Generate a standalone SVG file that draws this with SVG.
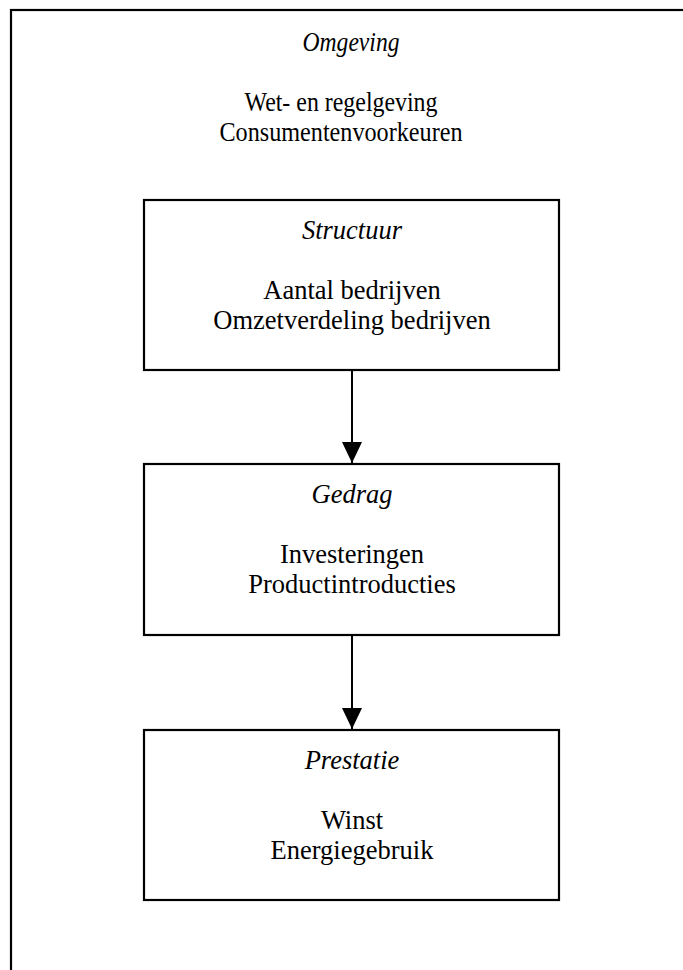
<svg xmlns="http://www.w3.org/2000/svg" width="683" height="970" viewBox="0 0 683 970">
<style>
.box{fill:#fff;stroke:#000;stroke-width:2.2}
.t{font-family:"Liberation Serif","Times New Roman",serif;font-size:26.5px;fill:#000;text-anchor:middle}
.i{font-style:italic}
.c{stroke:#000;stroke-width:2;fill:none}
</style>
<defs>
<marker id="ah" viewBox="0 0 21 20" refX="21" refY="10" markerWidth="21" markerHeight="20" markerUnits="userSpaceOnUse" orient="auto">
<path d="M0,0 L21,10 L0,20 Z" fill="#000"/>
</marker>
</defs>
<g id="omgeving">
<rect class="box" x="11" y="10" width="700" height="1000"/>
<text class="t i" x="351" y="51" textLength="97" lengthAdjust="spacingAndGlyphs">Omgeving</text>
<text class="t" x="341" y="111" textLength="193" lengthAdjust="spacingAndGlyphs">Wet- en regelgeving</text>
<text class="t" x="341" y="141" textLength="243" lengthAdjust="spacingAndGlyphs">Consumentenvoorkeuren</text>
</g>
<g id="structuur">
<rect class="box" x="144" y="200" width="415" height="170"/>
<text class="t i" x="352" y="239">Structuur</text>
<text class="t" x="352" y="299">Aantal bedrijven</text>
<text class="t" x="352" y="329">Omzetverdeling bedrijven</text>
</g>
<g id="gedrag">
<rect class="box" x="144" y="464" width="415" height="171"/>
<text class="t i" x="352" y="503">Gedrag</text>
<text class="t" x="352" y="563">Investeringen</text>
<text class="t" x="352" y="593">Productintroducties</text>
</g>
<g id="prestatie">
<rect class="box" x="144" y="730" width="415" height="170"/>
<text class="t i" x="352" y="769">Prestatie</text>
<text class="t" x="352" y="829">Winst</text>
<text class="t" x="352" y="859">Energiegebruik</text>
</g>
<g id="connectors">
<line class="c" x1="352" y1="371" x2="352" y2="463" marker-end="url(#ah)"/>
<line class="c" x1="352" y1="636" x2="352" y2="729" marker-end="url(#ah)"/>
</g>
</svg>
